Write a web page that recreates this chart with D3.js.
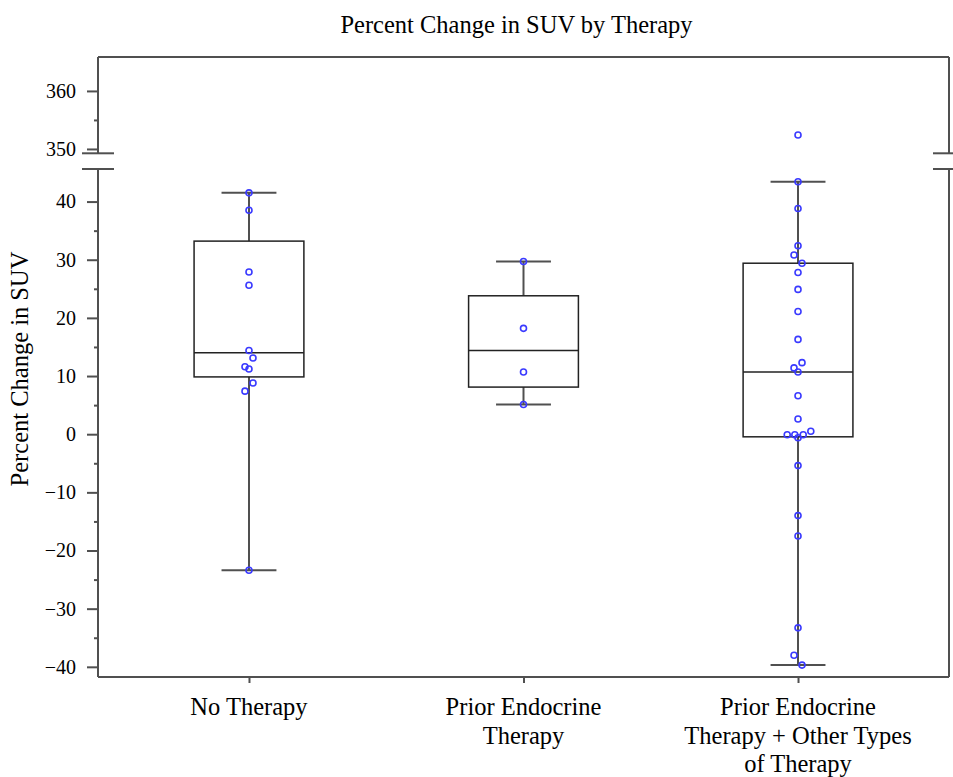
<!DOCTYPE html>
<html>
<head>
<meta charset="utf-8">
<script src="https://cdn.jsdelivr.net/npm/d3@7"></script>
<style>
  body { margin: 0; background: #fff; }
  svg { display: block; }
  text { font-family: "Liberation Serif", "Times New Roman", serif; fill: #000; }
</style>
</head>
<body>
<svg id="chart" width="953" height="777"></svg>
<script>
// ---------- data ----------
const categories = ["No Therapy", "Prior Endocrine Therapy", "Prior Endocrine Therapy + Other Types of Therapy"];
const categoryLabels = [["No Therapy"], ["Prior Endocrine", "Therapy"], ["Prior Endocrine", "Therapy + Other Types", "of Therapy"]];

// box statistics
const whiskerLow  = [-23.4, 5.1, -39.7];
const q1          = [9.85, 8.1, -0.45];
const median      = [14.0, 14.4, 10.7];
const q3          = [33.2, 23.8, 29.4];
const whiskerHigh = [41.5, 29.7, 43.4];

// individual observations
const pointsNoTherapy = [41.5, 38.5, 27.9, 25.6, 14.4, 13.1, 11.6, 11.2, 8.8, 7.4, -23.4];
const jitterNoTherapy = [0, 0, 0, 0, 0, 1, -1, 0, 1, -1, 0];
const pointsEndocrine = [29.7, 18.2, 10.7, 5.1];
const jitterEndocrine = [0, 0, 0, 0];
const pointsOther = [352.4, 43.4, 38.8, 32.4, 30.8, 29.4, 27.8, 24.9, 21.1, 16.3, 12.3, 11.4, 10.7, 6.6, 2.6,
                     -0.1, -0.1, -0.1, 0.5, -0.6, -5.4, -14.0, -17.5, -33.3, -38.0, -39.7];
const jitterOther  = [0, 0, 0, 0, -1, 1, 0, 0, 0, 0, 1, -1, 0, 0, 0,
                     -2.7, -0.8, 1.3, 3.2, 0, 0, 0, 0, 0, -1, 1];

const lowerTicks = [-40, -30, -20, -10, 0, 10, 20, 30, 40];
const lowerMinor = [-35, -25, -15, -5, 5, 15, 25, 35];
const upperTicks = [350, 360];
const upperMinor = [355];

const title = "Percent Change in SUV by Therapy";
const yTitle = "Percent Change in SUV";

// ---------- layout ----------
(function () {
const svg = d3.select("#chart");
const pLeft = 98, pRight = 949, pTop = 57, pBottom = 677;
const breakHi = 153.3, breakLo = 169;

const x = d3.scalePoint().domain(categories).range([pLeft, pRight]).padding(0.55);
const step = x.step();
const boxW = step * 0.4;
const capW = boxW * 0.5;
const jitterPx = 4;

const yLow = d3.scaleLinear().domain([-41.75, 45.6]).range([pBottom, breakLo]);
const yUp  = d3.scaleLinear().domain([349.25, 365.85]).range([breakHi, pTop]);
const y = v => v >= 300 ? yUp(v) : yLow(v);

const frameColor = "#505050";
const labelSize = "24.5px";

// title
svg.append("text").attr("x", 516.5).attr("y", 33).attr("text-anchor", "middle")
  .style("font-size", labelSize).text(title);

// y axis title
svg.append("text").attr("transform", `translate(28,369) rotate(-90)`)
  .attr("text-anchor", "middle").style("font-size", labelSize).text(yTitle);

function styleAxis(g) {
  g.select(".domain").remove();
  g.selectAll(".tick line").attr("stroke", frameColor).attr("stroke-width", 2);
  g.selectAll(".tick text").style("font-size", "20px").style("font-family", "Liberation Serif, serif").attr("fill", "#000");
}
const gLow = svg.append("g").attr("transform", `translate(${pLeft},0)`)
  .call(d3.axisLeft(yLow).tickValues(lowerTicks).tickSize(11).tickPadding(11).tickFormat(d3.format("d")));
styleAxis(gLow);
const gLowMinor = svg.append("g").attr("transform", `translate(${pLeft},0)`)
  .call(d3.axisLeft(yLow).tickValues(lowerMinor).tickSize(4).tickFormat(""));
styleAxis(gLowMinor);
const gUp = svg.append("g").attr("transform", `translate(${pLeft},0)`)
  .call(d3.axisLeft(yUp).tickValues(upperTicks).tickSize(11).tickPadding(11).tickFormat(d3.format("d")));
styleAxis(gUp);
const gUpMinor = svg.append("g").attr("transform", `translate(${pLeft},0)`)
  .call(d3.axisLeft(yUp).tickValues(upperMinor).tickSize(4).tickFormat(""));
styleAxis(gUpMinor);

// x axis ticks
const gx = svg.append("g").attr("transform", `translate(0,${pBottom})`)
  .call(d3.axisBottom(x).tickSize(6).tickFormat(""));
gx.select(".domain").remove();
gx.selectAll(".tick line").attr("stroke", frameColor).attr("stroke-width", 2);

// x labels
categories.forEach((c, i) => {
  const t = svg.append("text").attr("text-anchor", "middle").style("font-size", labelSize);
  categoryLabels[i].forEach((line, j) => {
    t.append("tspan").attr("x", x(c)).attr("y", 715 + j * 28.5).text(line);
  });
});

// frame
const frame = svg.append("g").attr("stroke", frameColor).attr("stroke-width", 2).attr("fill", "none");
frame.append("line").attr("x1", pLeft).attr("x2", pRight).attr("y1", pTop).attr("y2", pTop);
frame.append("line").attr("x1", pLeft).attr("x2", pRight).attr("y1", pBottom).attr("y2", pBottom);
[pLeft, pRight].forEach(xx => {
  frame.append("line").attr("x1", xx).attr("x2", xx).attr("y1", pTop).attr("y2", breakHi);
  frame.append("line").attr("x1", xx).attr("x2", xx).attr("y1", breakLo).attr("y2", pBottom);
  [breakHi, breakLo].forEach(yy => {
    frame.append("line").attr("x1", xx - 16).attr("x2", xx + 16).attr("y1", yy).attr("y2", yy);
  });
});

// boxes
const boxes = categories.map((c, i) => ({ c, lo: whiskerLow[i], q1: q1[i], med: median[i], q3: q3[i], hi: whiskerHigh[i] }));
const bg = svg.append("g");
boxes.forEach(b => {
  const cx = x(b.c);
  const g = bg.append("g");
  g.append("line").attr("x1", cx).attr("x2", cx).attr("y1", y(b.q3)).attr("y2", y(b.hi))
    .attr("stroke", frameColor).attr("stroke-width", 2);
  g.append("line").attr("x1", cx).attr("x2", cx).attr("y1", y(b.q1)).attr("y2", y(b.lo))
    .attr("stroke", frameColor).attr("stroke-width", 2);
  [b.hi, b.lo].forEach(v => g.append("line").attr("x1", cx - capW / 2).attr("x2", cx + capW / 2)
    .attr("y1", y(v)).attr("y2", y(v)).attr("stroke", frameColor).attr("stroke-width", 2));
  g.append("rect").attr("x", cx - boxW / 2).attr("width", boxW).attr("y", y(b.q3)).attr("height", y(b.q1) - y(b.q3))
    .attr("fill", "none").attr("stroke", "#222").attr("stroke-width", 1.5);
  g.append("line").attr("x1", cx - boxW / 2).attr("x2", cx + boxW / 2).attr("y1", y(b.med)).attr("y2", y(b.med))
    .attr("stroke", "#222").attr("stroke-width", 1.5);
});

// points
const groups = [
  { c: categories[0], v: pointsNoTherapy, j: jitterNoTherapy },
  { c: categories[1], v: pointsEndocrine, j: jitterEndocrine },
  { c: categories[2], v: pointsOther, j: jitterOther }
];
const pts = groups.flatMap(g => g.v.map((v, k) => ({ c: g.c, v, j: g.j[k] })));
svg.append("g").selectAll("circle").data(pts).join("circle")
  .attr("cx", d => x(d.c) + d.j * jitterPx)
  .attr("cy", d => y(d.v))
  .attr("r", 3)
  .attr("fill", "none")
  .attr("stroke", "#3a3aff")
  .attr("stroke-width", 1.6);
})();
</script>
</body>
</html>
